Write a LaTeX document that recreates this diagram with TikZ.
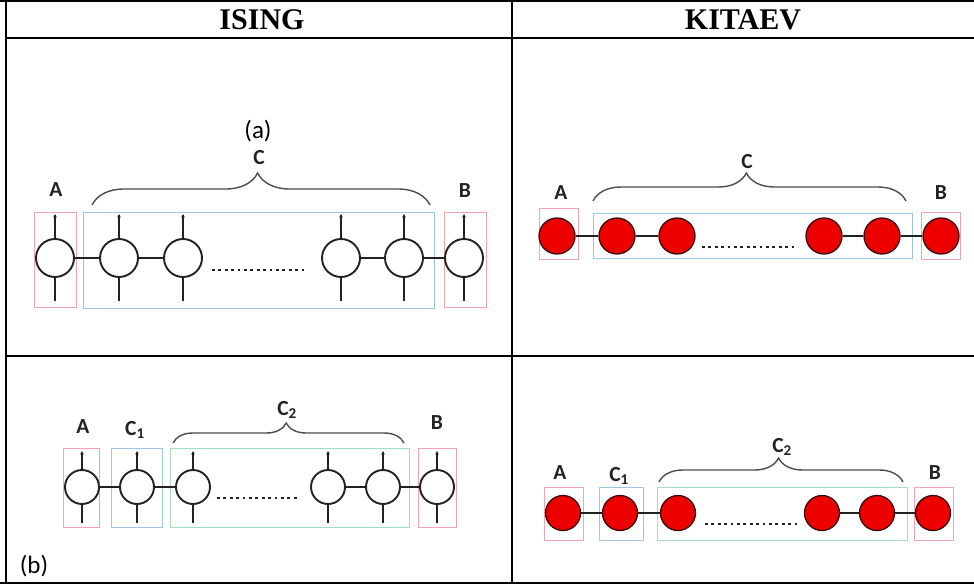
\documentclass[tikz,border=0pt]{standalone}
\usepackage{fontspec}
\setmainfont{Carlito}
\newfontfamily\headfont{Liberation Serif}
\usetikzlibrary{arrows.meta,decorations.pathreplacing}

\definecolor{boxred}{HTML}{F2A6AC}
\definecolor{boxblue}{HTML}{9CC6E6}
\definecolor{boxgreen}{HTML}{A6DCC6}
\definecolor{kitred}{HTML}{EC0000}
\definecolor{kitrim}{HTML}{3A0A0A}
\definecolor{ink}{HTML}{222222}

\tikzset{
  x=1pt, y=1pt,
  grid/.style={line width=1.8pt, black},
  head/.style={font=\headfont\bfseries\fontsize{30}{36}\selectfont},
  spin/.style={circle, draw=ink, line width=1.9pt, minimum size=#1, inner sep=0pt},
  spin/.default=38pt,
  kit/.style={circle, draw=kitrim, fill=kitred, line width=1.3pt, minimum size=#1, inner sep=0pt},
  kit/.default=36pt,
  bond/.style={ink, line width=1.7pt},
  kbond/.style={ink, line width=1.4pt},
  upleg/.style={ink, line width=1.7pt, -{Stealth[length=3.5pt,width=3.5pt]}},
  downleg/.style={ink, line width=1.7pt},
  regA/.style={draw=boxred, line width=1pt},
  regC/.style={draw=boxblue, line width=1pt},
  regD/.style={draw=boxgreen, line width=1pt},
  lbl/.style={font=\bfseries\fontsize{21.5}{24}\selectfont, text=ink},
  panel/.style={font=\fontsize{25}{28}\selectfont},
  dots/.style={ink, line width=2.8pt, dash pattern=on 2.8pt off 3.6pt},
  curly/.style={decorate, decoration={brace, amplitude=#1, aspect=0.49}, draw=black!70, line width=1.4pt},
}

\begin{document}
\begin{tikzpicture}
\useasboundingbox (0,0) rectangle (974,-584);

% ---------- table frame ----------
\draw[grid] (0,-0.8) -- (974,-0.8);
\draw[grid] (6,0) -- (6,-584);
\draw[grid] (512,0) -- (512,-584);
\draw[grid] (6,-38) -- (974,-38);
\draw[grid] (6,-356) -- (974,-356);
\draw[grid] (0,-583) -- (974,-583);

\node[head] (hIsing) at (262,-20) {ISING};
\node[head] (hKitaev) at (743,-20) {KITAEV};

% ---------- Ising chain, row (a) ----------
\draw[regA] (34,-212) rectangle (76,-307);
\draw[regC] (83,-212) rectangle (434,-308);
\draw[regA] (444,-212) rectangle (486,-307);

\foreach \n/\x in {ia/55, ic1/119, ic2/183, ic3/341, ic4/404, ib/464} {
  \node[spin] (\n) at (\x,-258) {};
  \coordinate (\n t) at (\x,-214);
  \coordinate (\n d) at (\x,-301);
  \draw[upleg] (\n.north) -- (\n t);
  \draw[downleg] (\n.south) -- (\n d);
}
\draw[bond] (ia) -- (ic1);
\draw[bond] (ic1) -- (ic2);
\draw[bond] (ic3) -- (ic4);
\draw[bond] (ic4) -- (ib);
\draw[dots] (212,-270) -- (307,-270);

\draw[curly=32pt] (92,-205) -- (430,-205);
\node[lbl] (iA) at (56,-190) {A};
\node[lbl] (iB) at (465,-191) {B};
\node[lbl] (iC) at (259,-158) {C};
\node[panel] (pa) at (258,-131) {(a)};

% ---------- Kitaev chain, row (a) ----------
\draw[regA] (539,-208) rectangle (578,-259);
\draw[regC] (593,-213) rectangle (912,-258);
\draw[regA] (921,-212) rectangle (960,-259);

\foreach \n/\x in {ka/557, kc1/617, kc2/677, kc3/824, kc4/882, kb/941}
  \node[kit] (\n) at (\x,-236) {};
\draw[kbond] (ka) -- (kc1);
\draw[kbond] (kc1) -- (kc2);
\draw[kbond] (kc3) -- (kc4);
\draw[kbond] (kc4) -- (kb);
\draw[dots] (702,-247) -- (798,-247);

\draw[curly=28pt] (593,-201) -- (906,-201);
\node[lbl] (kA) at (561,-193) {A};
\node[lbl] (kB) at (941,-193) {B};
\node[lbl] (kC) at (747,-162) {C};

% ---------- Ising chain, row (b) ----------
\draw[regA] (63,-448) rectangle (99,-527);
\draw[regC] (111,-448) rectangle (162,-527);
\draw[regD] (170,-448) rectangle (409,-527);
\draw[regA] (418,-448) rectangle (456,-527);

\foreach \n/\x in {ja/82, jc1/137, jc2/193, jc3/328, jc4/383, jb/437} {
  \node[spin=34pt] (\n) at (\x,-487) {};
  \coordinate (\n t) at (\x,-451);
  \coordinate (\n d) at (\x,-523);
  \draw[upleg] (\n.north) -- (\n t);
  \draw[downleg] (\n.south) -- (\n d);
}
\draw[bond] (ja) -- (jc1);
\draw[bond] (jc1) -- (jc2);
\draw[bond] (jc3) -- (jc4);
\draw[bond] (jc4) -- (jb);
\draw[dots] (217,-498) -- (299,-498);

\draw[curly=20pt] (173,-443) -- (404,-443);
\node[lbl] (jA) at (83,-427) {A};
\node[lbl] (jC1) at (135,-430) {C\textsubscript{1}};
\node[lbl] (jC2) at (287,-410) {C\textsubscript{2}};
\node[lbl] (jB) at (437,-423) {B};
\node[panel] (pb) at (34,-566) {(b)};

% ---------- Kitaev chain, row (b) ----------
\draw[regA] (544,-487) rectangle (583,-540);
\draw[regC] (599,-487) rectangle (643,-540);
\draw[regD] (657,-487) rectangle (907,-540);
\draw[regA] (914,-487) rectangle (953,-540);

\foreach \n/\x in {la/563, lc1/620, lc2/678, lc3/822, lc4/877, lb/933}
  \node[kit=35pt] (\n) at (\x,-513) {};
\draw[kbond] (la) -- (lc1);
\draw[kbond] (lc1) -- (lc2);
\draw[kbond] (lc3) -- (lc4);
\draw[kbond] (lc4) -- (lb);
\draw[dots] (705,-524) -- (797,-524);

\draw[curly=24pt] (659,-482) -- (903,-482);
\node[lbl] (lA) at (560,-473) {A};
\node[lbl] (lC1) at (619,-476) {C\textsubscript{1}};
\node[lbl] (lC2) at (782,-447) {C\textsubscript{2}};
\node[lbl] (lB) at (935,-473) {B};
\end{tikzpicture}
\end{document}
